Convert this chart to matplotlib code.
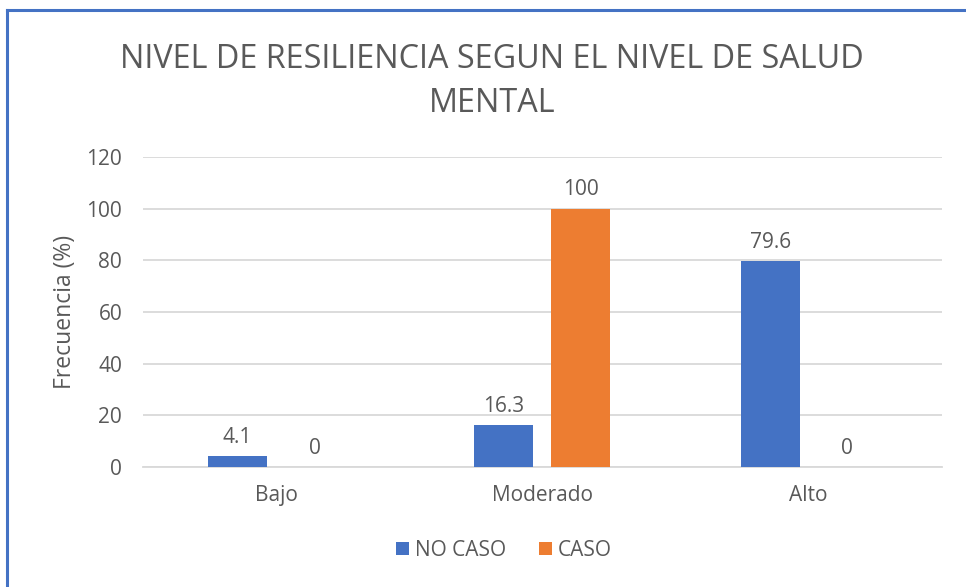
import numpy as np
import matplotlib
matplotlib.use("Agg")
import matplotlib.pyplot as plt
from matplotlib.lines import Line2D

categories = ["Bajo", "Moderado", "Alto"]
no_caso = [4.1, 16.3, 79.6]
caso = [0, 100, 0]
series_names = ["NO CASO", "CASO"]

BLUE = "#4472C4"
ORANGE = "#ED7D31"
GREY_TXT = "#595959"
GRID = "#D9D9D9"

plt.rcParams["font.family"] = ["Open Sans", "DejaVu Sans"]

fig = plt.figure(figsize=(9.66, 5.87), dpi=100)
ax = fig.add_axes([0.148, 0.2044, 0.827, 0.5281])

x = np.arange(len(categories))
w = 0.2216
off = 0.1446
b1 = ax.bar(x - off, no_caso, w, color=BLUE, label=series_names[0], zorder=3)
b2 = ax.bar(x + off, caso, w, color=ORANGE, label=series_names[1], zorder=3)

for bars, vals in ((b1, no_caso), (b2, caso)):
    for r, v in zip(bars, vals):
        ax.annotate(f"{v:g}", (r.get_x() + r.get_width() / 2, v),
                    xytext=(0, 6), textcoords="offset points",
                    ha="center", va="bottom", fontsize=15, color=GREY_TXT)

ax.set_xlim(-0.5, 2.5)
ax.set_ylim(0, 120)
ax.set_yticks(range(0, 121, 20))
ax.set_xticks(x)
ax.set_xticklabels(categories)
ax.tick_params(axis="both", length=0, labelsize=15, labelcolor=GREY_TXT)
ax.tick_params(axis="y", pad=15)
ax.tick_params(axis="x", pad=13)
ax.grid(axis="y", color=GRID, linewidth=1.3, zorder=0)
for s in ("top", "right", "left"):
    ax.spines[s].set_visible(False)
ax.spines["bottom"].set_color(GRID)
ax.spines["bottom"].set_linewidth(1.3)
ax.set_ylabel("Frecuencia (%)", fontsize=16.5, color=GREY_TXT, labelpad=7)

fig.text(0.509, 0.861, "NIVEL DE RESILIENCIA SEGUN EL NIVEL DE SALUD\nMENTAL",
         ha="center", va="center", fontsize=23.3, color=GREY_TXT, linespacing=1.45)

leg_y = (1 - 550 / 587 - 0.2044) / 0.5281
ax.legend(loc="center", bbox_to_anchor=(0.452, leg_y),
          bbox_transform=ax.transAxes, ncol=2, frameon=False, fontsize=15,
          labelcolor=GREY_TXT, handlelength=0.6, handleheight=0.6,
          handletextpad=0.3, columnspacing=1.6)

# chart frame (blue border on left / top edges)
fig.add_artist(Line2D([7 / 966, 7 / 966], [0, 1 - 10 / 587], color=BLUE, lw=2.2))
fig.add_artist(Line2D([7 / 966, 1], [1 - 10 / 587, 1 - 10 / 587], color=BLUE, lw=2.2))

fig.savefig("out.png", dpi=100)
